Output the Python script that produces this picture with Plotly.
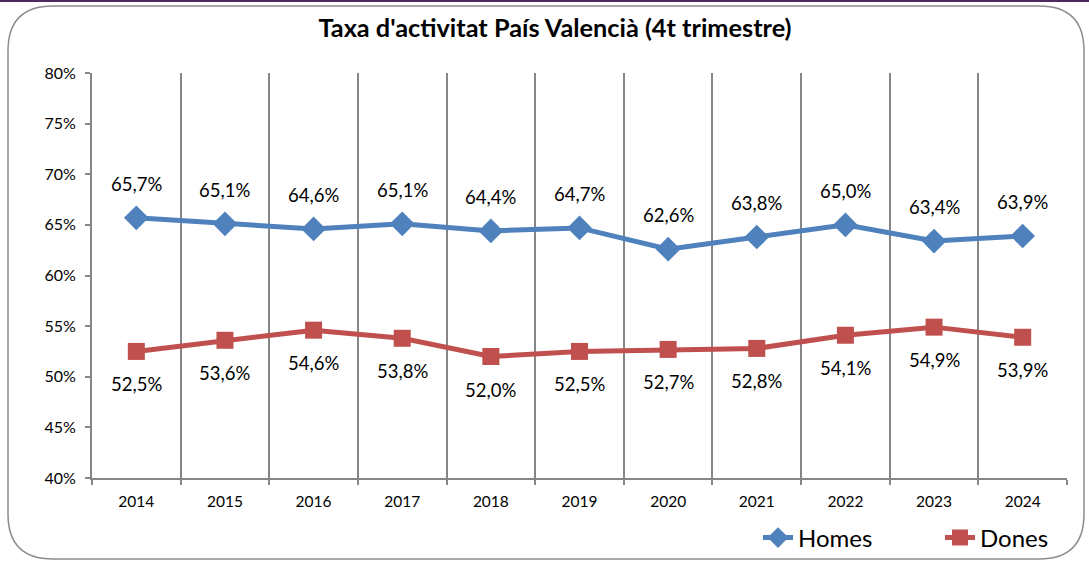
import plotly.graph_objects as go

years = ["2014", "2015", "2016", "2017", "2018", "2019", "2020", "2021", "2022", "2023", "2024"]
homes = [65.7, 65.1, 64.6, 65.1, 64.4, 64.7, 62.6, 63.8, 65.0, 63.4, 63.9]
dones = [52.5, 53.6, 54.6, 53.8, 52.0, 52.5, 52.7, 52.8, 54.1, 54.9, 53.9]
y_ticks = [40, 45, 50, 55, 60, 65, 70, 75, 80]

FONT = "Lato"
BLUE = "#4F81BD"
RED = "#C0504D"

W, H = 1089, 562
L, R, T, B = 92, 1067, 73, 478

def px(x):
    return (x - L) / (R - L)

def py(y):
    return (B - y) / (B - T)

xs = list(range(len(years)))

fig = go.Figure()
fig.add_trace(go.Scatter(
    x=xs, y=homes, name="Homes", mode="lines+markers",
    line=dict(color=BLUE, width=5),
    marker=dict(symbol="diamond", size=19, color=BLUE),
))
fig.add_trace(go.Scatter(
    x=xs, y=dones, name="Dones", mode="lines+markers",
    line=dict(color=RED, width=5),
    marker=dict(symbol="square", size=17, color=RED),
))

def fmt(v):
    return f"{v:.1f}%".replace(".", ",")

for x, v in zip(xs, homes):
    fig.add_annotation(x=x, y=v, text=fmt(v), showarrow=False, yshift=34,
                       font=dict(family=FONT, size=18.5, color="#000"))
for x, v in zip(xs, dones):
    fig.add_annotation(x=x, y=v, text=fmt(v), showarrow=False, yshift=-33,
                       font=dict(family=FONT, size=18.5, color="#000"))

# rounded outer border
x0, x1 = px(8), px(1084)
y0, y1 = py(559), py(6)
rx = 45 / (R - L)
ry = 45 / (B - T)
path = (f"M {x0+rx},{y1} L {x1-rx},{y1} Q {x1},{y1} {x1},{y1-ry} "
        f"L {x1},{y0+ry} Q {x1},{y0} {x1-rx},{y0} L {x0+rx},{y0} "
        f"Q {x0},{y0} {x0},{y0+ry} L {x0},{y1-ry} Q {x0},{y1} {x0+rx},{y1} Z")
fig.add_shape(type="path", path=path, xref="paper", yref="paper",
              line=dict(color="#8C8C8C", width=1.5), layer="below")
# purple top line
fig.add_shape(type="line", xref="paper", yref="paper", x0=px(0), x1=px(W), y0=py(1), y1=py(1),
              line=dict(color="#4B2A63", width=2))

fig.update_layout(
    width=W, height=H,
    margin=dict(l=L, r=W - R, t=T, b=H - B, autoexpand=False),
    paper_bgcolor="white", plot_bgcolor="white",
    font=dict(family=FONT, color="#000"),
    title=dict(text="<b>Taxa d'activitat País Valencià (4t trimestre)</b>",
               xref="container", x=555 / W, xanchor="center",
               yref="container", y=1 - 28 / H, yanchor="middle",
               font=dict(family=FONT, size=25.3, color="#000")),
    showlegend=True,
    legend=dict(orientation="h", xref="container", yref="container",
                x=758 / W, xanchor="left", y=1 - 538 / H, yanchor="middle",
                font=dict(family=FONT, size=24, color="#000"), bgcolor="rgba(0,0,0,0)",
                entrywidth=137, tracegroupgap=0),
    xaxis=dict(
        range=[-0.5, len(years) - 0.5],
        tickmode="array", tickvals=xs, ticktext=years,
        showgrid=False, ticks="", tickfont=dict(family=FONT, size=15.5, color="#000"),
        ticklabelstandoff=8,
        showline=True, linecolor="#868686", linewidth=2,
        minor=dict(tick0=-0.5, dtick=1, showgrid=True, gridcolor="#868686", gridwidth=1.5,
                   ticks="outside", ticklen=5, tickcolor="#868686", tickwidth=1.5),
        zeroline=False, fixedrange=True,
    ),
    yaxis=dict(
        range=[40, 80], tickmode="array", tickvals=y_ticks,
        ticktext=[f"{t}%" for t in y_ticks],
        showgrid=False, ticks="outside", ticklen=5, tickcolor="#868686", tickwidth=1.5,
        ticklabelstandoff=6,
        showline=True, linecolor="#868686", linewidth=2,
        tickfont=dict(family=FONT, size=16, color="#000"),
        zeroline=False, fixedrange=True,
    ),
)

fig.write_html("out.html", config={"displayModeBar": False},
               post_script="document.body.style.margin='0';")
